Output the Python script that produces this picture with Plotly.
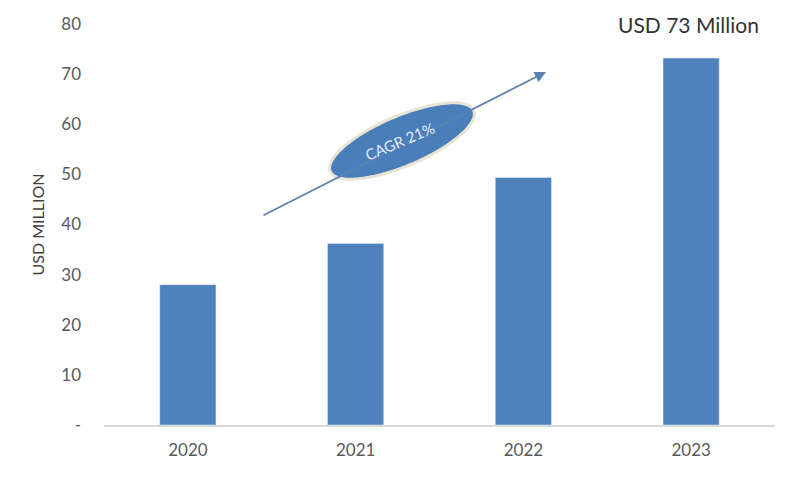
import math
import plotly.graph_objects as go

years = ["2020", "2021", "2022", "2023"]
values = [28.0, 36.2, 49.4, 73.2]
y_ticks = [0, 10, 20, 30, 40, 50, 60, 70, 80]
y_tick_labels = ["-", "10", "20", "30", "40", "50", "60", "70", "80"]

# page has an 8px body margin, so the figure is 8px smaller
OFF = 8
W, H = 800 - OFF, 487 - OFF
# plot area in page pixels: left 104, right 775, top 24, bottom 425
ML, MT = 104 - OFF, 24 - OFF
PW, PH = 775 - 104, 425 - 24
MR, MB = W - ML - PW, H - MT - PH

def px(x):
    return (x - OFF - ML) / PW

def py(y):
    return (MT + PH - (y - OFF)) / PH

fig = go.Figure()
fig.add_trace(go.Bar(x=years, y=values, marker_color="#4f81bd", width=0.335))

# ellipse (page pixel geometry)
cx, cy, a, b, th = 402, 141, 78, 25, math.radians(23)
pts = []
for i in range(73):
    t = 2 * math.pi * i / 72
    ex = a * math.cos(t)
    ey = b * math.sin(t)
    X = cx + ex * math.cos(th) + ey * math.sin(th)
    Y = cy - ex * math.sin(th) + ey * math.cos(th)
    pts.append((px(X), py(Y)))
path = "M " + " L ".join(f"{x:.5f},{y:.5f}" for x, y in pts) + " Z"

fig.update_layout(
    width=W, height=H,
    margin=dict(l=ML, r=MR, t=MT, b=MB, autoexpand=False),
    plot_bgcolor="white", paper_bgcolor="white",
    font=dict(family="Lato, Open Sans, sans-serif", color="#595959", size=17),
    showlegend=False,
    xaxis=dict(type="category", showgrid=False, showline=True, linecolor="#d9d9d9",
               linewidth=1.5, ticks="", ticklabelstandoff=9,
               tickfont=dict(size=17, color="#595959")),
    yaxis=dict(range=[0, 80], tickvals=y_ticks, ticktext=y_tick_labels, showgrid=False,
               zeroline=False, showline=False, ticklabelstandoff=22,
               tickfont=dict(size=17, color="#595959"),
               title=dict(text="USD MILLION", font=dict(size=16, color="#404040"), standoff=12)),
    shapes=[dict(type="path", xref="paper", yref="paper", path=path,
                 fillcolor="#4a7ebb", line=dict(color="#e8e4d4", width=3), layer="above")],
    annotations=[
        dict(xref="paper", yref="paper", x=px(546), y=py(72), ax=262 - 546, ay=216 - 72,
             axref="pixel", ayref="pixel", showarrow=True, arrowhead=2, arrowsize=1.4,
             arrowwidth=1.6, arrowcolor="#5b80ad", text="", standoff=0),
        dict(xref="paper", yref="paper", x=px(400), y=py(141), text="CAGR 21%",
             xanchor="center", yanchor="middle",
             showarrow=False, textangle=-23, font=dict(size=15, color="#e4ebf5")),
        dict(xref="paper", yref="paper", x=px(688), y=py(25), text="USD 73 Million",
             xanchor="center", yanchor="middle",
             showarrow=False, font=dict(size=21, color="#333333")),
    ],
)

fig.write_html("out.html")
